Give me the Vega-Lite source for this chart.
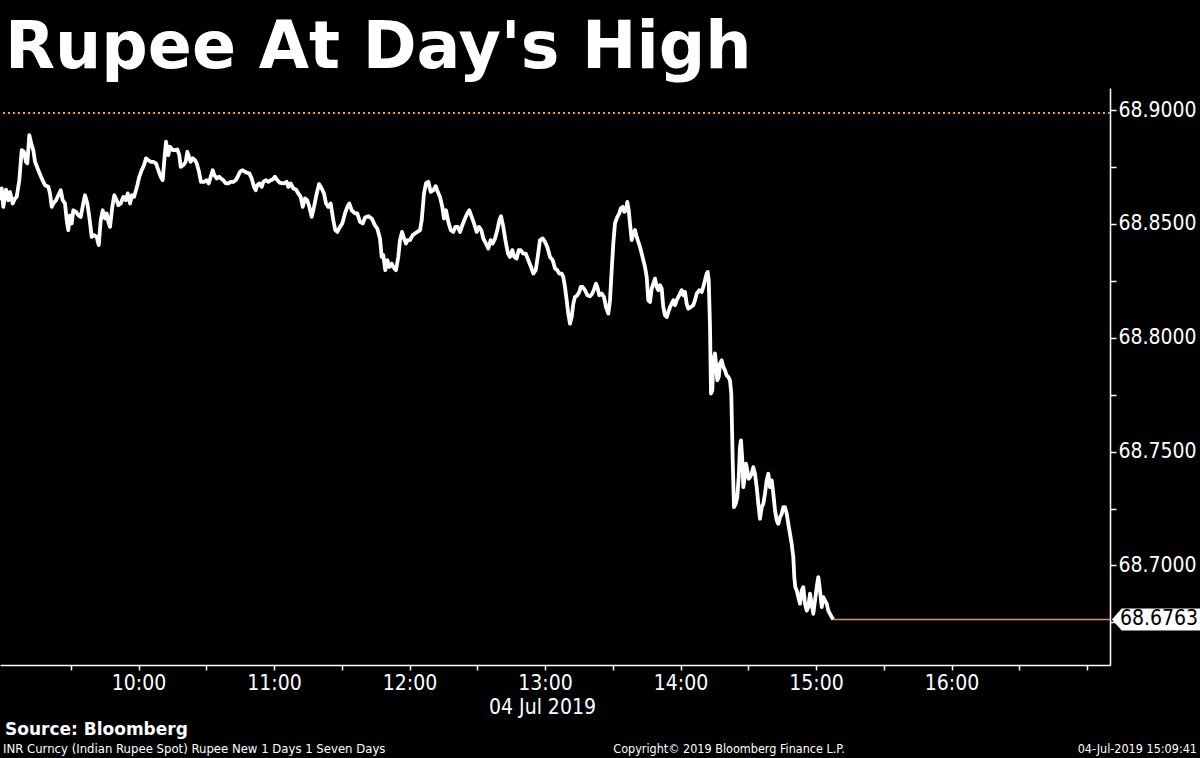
{
"$schema": "https://vega.github.io/schema/vega-lite/v6.json",
"autosize": {"type": "none"},
"width": 1110,
"height": 577,
"padding": {"left": 0, "top": 88, "right": 90, "bottom": 93},
"background": "black",
"config": {"view": {"stroke": null}, "axis": {"grid": false}},
"title": {"text": "Rupee At Day's High", "anchor": "start", "frame": "group", "color": "white", "fontSize": 65, "font": "DejaVu Sans", "fontWeight": "bold", "offset": 20, "baseline": "alphabetic", "dx": 5, "dy": 65},
"layer": [
{
"data": {"values": [
{"t":"2019-07-04T08:58:40","v":68.8604},{"t":"2019-07-04T08:59:25","v":68.8656},{"t":"2019-07-04T09:00:08","v":68.8575},{"t":"2019-07-04T09:01:20","v":68.8651},{"t":"2019-07-04T09:02:21","v":68.8604},{"t":"2019-07-04T09:03:06","v":68.8641},{"t":"2019-07-04T09:04:18","v":68.8590},{"t":"2019-07-04T09:05:19","v":68.8612},{"t":"2019-07-04T09:06:04","v":68.8619},{"t":"2019-07-04T09:07:13","v":68.8692},{"t":"2019-07-04T09:08:17","v":68.8824},{"t":"2019-07-04T09:09:18","v":68.8817},{"t":"2019-07-04T09:10:11","v":68.8773},{"t":"2019-07-04T09:10:46","v":68.8766},{"t":"2019-07-04T09:11:39","v":68.8890},{"t":"2019-07-04T09:12:42","v":68.8846},{"t":"2019-07-04T09:13:25","v":68.8824},{"t":"2019-07-04T09:14:10","v":68.8773},{"t":"2019-07-04T09:15:38","v":68.8736},{"t":"2019-07-04T09:17:08","v":68.8700},{"t":"2019-07-04T09:18:36","v":68.8670},{"t":"2019-07-04T09:20:04","v":68.8663},{"t":"2019-07-04T09:20:49","v":68.8634},{"t":"2019-07-04T09:21:34","v":68.8575},{"t":"2019-07-04T09:22:16","v":68.8590},{"t":"2019-07-04T09:23:28","v":68.8604},{"t":"2019-07-04T09:24:29","v":68.8626},{"t":"2019-07-04T09:25:33","v":68.8648},{"t":"2019-07-04T09:26:26","v":68.8604},{"t":"2019-07-04T09:27:27","v":68.8590},{"t":"2019-07-04T09:28:12","v":68.8516},{"t":"2019-07-04T09:28:55","v":68.8473},{"t":"2019-07-04T09:29:40","v":68.8538},{"t":"2019-07-04T09:30:25","v":68.8502},{"t":"2019-07-04T09:31:08","v":68.8560},{"t":"2019-07-04T09:32:19","v":68.8553},{"t":"2019-07-04T09:33:20","v":68.8538},{"t":"2019-07-04T09:34:24","v":68.8531},{"t":"2019-07-04T09:35:33","v":68.8590},{"t":"2019-07-04T09:36:18","v":68.8626},{"t":"2019-07-04T09:37:20","v":68.8590},{"t":"2019-07-04T09:38:13","v":68.8531},{"t":"2019-07-04T09:39:17","v":68.8443},{"t":"2019-07-04T09:40:18","v":68.8451},{"t":"2019-07-04T09:41:29","v":68.8443},{"t":"2019-07-04T09:42:23","v":68.8407},{"t":"2019-07-04T09:43:16","v":68.8516},{"t":"2019-07-04T09:44:09","v":68.8560},{"t":"2019-07-04T09:45:10","v":68.8524},{"t":"2019-07-04T09:45:55","v":68.8546},{"t":"2019-07-04T09:46:38","v":68.8509},{"t":"2019-07-04T09:47:23","v":68.8487},{"t":"2019-07-04T09:48:24","v":68.8575},{"t":"2019-07-04T09:49:17","v":68.8626},{"t":"2019-07-04T09:50:21","v":68.8604},{"t":"2019-07-04T09:51:04","v":68.8582},{"t":"2019-07-04T09:52:07","v":68.8590},{"t":"2019-07-04T09:53:16","v":68.8619},{"t":"2019-07-04T09:54:20","v":68.8604},{"t":"2019-07-04T09:55:13","v":68.8634},{"t":"2019-07-04T09:56:14","v":68.8590},{"t":"2019-07-04T09:57:07","v":68.8626},{"t":"2019-07-04T09:58:01","v":68.8619},{"t":"2019-07-04T09:58:53","v":68.8648},{"t":"2019-07-04T09:59:28","v":68.8670},
{"t":"2019-07-04T10:00:21","v":68.8707},{"t":"2019-07-04T10:01:25","v":68.8736},{"t":"2019-07-04T10:02:26","v":68.8758},{"t":"2019-07-04T10:03:19","v":68.8788},{"t":"2019-07-04T10:04:20","v":68.8780},{"t":"2019-07-04T10:05:24","v":68.8773},{"t":"2019-07-04T10:06:33","v":68.8773},{"t":"2019-07-04T10:07:45","v":68.8766},{"t":"2019-07-04T10:08:46","v":68.8736},{"t":"2019-07-04T10:09:50","v":68.8707},{"t":"2019-07-04T10:10:43","v":68.8692},{"t":"2019-07-04T10:11:25","v":68.8780},{"t":"2019-07-04T10:12:11","v":68.8861},{"t":"2019-07-04T10:13:12","v":68.8802},{"t":"2019-07-04T10:13:57","v":68.8839},{"t":"2019-07-04T10:15:09","v":68.8824},{"t":"2019-07-04T10:16:10","v":68.8824},{"t":"2019-07-04T10:17:11","v":68.8827},{"t":"2019-07-04T10:18:04","v":68.8802},{"t":"2019-07-04T10:18:41","v":68.8751},{"t":"2019-07-04T10:19:50","v":68.8758},{"t":"2019-07-04T10:20:54","v":68.8773},{"t":"2019-07-04T10:21:37","v":68.8817},{"t":"2019-07-04T10:22:22","v":68.8795},{"t":"2019-07-04T10:23:07","v":68.8773},{"t":"2019-07-04T10:24:00","v":68.8788},{"t":"2019-07-04T10:25:01","v":68.8780},{"t":"2019-07-04T10:25:46","v":68.8766},{"t":"2019-07-04T10:26:47","v":68.8729},{"t":"2019-07-04T10:27:40","v":68.8685},{"t":"2019-07-04T10:29:00","v":68.8685},{"t":"2019-07-04T10:30:12","v":68.8692},{"t":"2019-07-04T10:31:05","v":68.8678},{"t":"2019-07-04T10:31:58","v":68.8707},{"t":"2019-07-04T10:32:51","v":68.8736},{"t":"2019-07-04T10:33:34","v":68.8714},{"t":"2019-07-04T10:34:38","v":68.8700},{"t":"2019-07-04T10:35:39","v":68.8707},{"t":"2019-07-04T10:36:32","v":68.8700},{"t":"2019-07-04T10:37:33","v":68.8692},{"t":"2019-07-04T10:38:37","v":68.8678},{"t":"2019-07-04T10:39:46","v":68.8678},{"t":"2019-07-04T10:40:50","v":68.8685},{"t":"2019-07-04T10:41:59","v":68.8685},{"t":"2019-07-04T10:43:02","v":68.8692},{"t":"2019-07-04T10:43:56","v":68.8707},{"t":"2019-07-04T10:44:56","v":68.8729},{"t":"2019-07-04T10:45:58","v":68.8736},{"t":"2019-07-04T10:47:10","v":68.8729},{"t":"2019-07-04T10:48:11","v":68.8724},{"t":"2019-07-04T10:49:04","v":68.8722},{"t":"2019-07-04T10:50:07","v":68.8700},{"t":"2019-07-04T10:51:08","v":68.8663},{"t":"2019-07-04T10:51:54","v":68.8648},{"t":"2019-07-04T10:52:37","v":68.8670},{"t":"2019-07-04T10:53:29","v":68.8678},{"t":"2019-07-04T10:54:33","v":68.8663},{"t":"2019-07-04T10:55:16","v":68.8685},{"t":"2019-07-04T10:56:19","v":68.8692},{"t":"2019-07-04T10:57:29","v":68.8685},{"t":"2019-07-04T10:58:32","v":68.8692},{"t":"2019-07-04T10:59:25","v":68.8695},
{"t":"2019-07-04T11:00:26","v":68.8707},{"t":"2019-07-04T11:01:28","v":68.8692},{"t":"2019-07-04T11:02:40","v":68.8680},{"t":"2019-07-04T11:04:26","v":68.8678},{"t":"2019-07-04T11:05:37","v":68.8685},{"t":"2019-07-04T11:06:20","v":68.8663},{"t":"2019-07-04T11:07:23","v":68.8678},{"t":"2019-07-04T11:08:33","v":68.8656},{"t":"2019-07-04T11:09:44","v":68.8651},{"t":"2019-07-04T11:10:46","v":68.8634},{"t":"2019-07-04T11:11:49","v":68.8619},{"t":"2019-07-04T11:12:43","v":68.8575},{"t":"2019-07-04T11:13:44","v":68.8612},{"t":"2019-07-04T11:14:44","v":68.8604},{"t":"2019-07-04T11:15:38","v":68.8575},{"t":"2019-07-04T11:16:41","v":68.8531},{"t":"2019-07-04T11:17:43","v":68.8575},{"t":"2019-07-04T11:18:55","v":68.8634},{"t":"2019-07-04T11:19:56","v":68.8675},{"t":"2019-07-04T11:21:07","v":68.8656},{"t":"2019-07-04T11:22:08","v":68.8634},{"t":"2019-07-04T11:23:01","v":68.8590},{"t":"2019-07-04T11:24:02","v":68.8575},{"t":"2019-07-04T11:25:06","v":68.8590},{"t":"2019-07-04T11:26:16","v":68.8516},{"t":"2019-07-04T11:27:08","v":68.8473},{"t":"2019-07-04T11:28:02","v":68.8465},{"t":"2019-07-04T11:29:13","v":68.8487},{"t":"2019-07-04T11:30:14","v":68.8502},{"t":"2019-07-04T11:31:26","v":68.8546},{"t":"2019-07-04T11:32:28","v":68.8575},{"t":"2019-07-04T11:33:20","v":68.8590},{"t":"2019-07-04T11:34:25","v":68.8560},{"t":"2019-07-04T11:35:52","v":68.8546},{"t":"2019-07-04T11:36:53","v":68.8546},{"t":"2019-07-04T11:38:05","v":68.8509},{"t":"2019-07-04T11:39:17","v":68.8502},{"t":"2019-07-04T11:40:17","v":68.8528},{"t":"2019-07-04T11:41:45","v":68.8534},{"t":"2019-07-04T11:43:16","v":68.8524},{"t":"2019-07-04T11:44:43","v":68.8494},{"t":"2019-07-04T11:45:44","v":68.8480},{"t":"2019-07-04T11:46:56","v":68.8436},{"t":"2019-07-04T11:47:41","v":68.8355},{"t":"2019-07-04T11:48:24","v":68.8363},{"t":"2019-07-04T11:49:17","v":68.8297},{"t":"2019-07-04T11:50:10","v":68.8341},{"t":"2019-07-04T11:51:03","v":68.8311},{"t":"2019-07-04T11:52:07","v":68.8326},{"t":"2019-07-04T11:52:49","v":68.8311},{"t":"2019-07-04T11:54:01","v":68.8297},{"t":"2019-07-04T11:55:02","v":68.8355},{"t":"2019-07-04T11:55:47","v":68.8429},{"t":"2019-07-04T11:56:41","v":68.8465},{"t":"2019-07-04T11:57:34","v":68.8436},{"t":"2019-07-04T11:58:27","v":68.8414},{"t":"2019-07-04T11:59:12","v":68.8429},
{"t":"2019-07-04T12:00:13","v":68.8429},{"t":"2019-07-04T12:01:25","v":68.8451},{"t":"2019-07-04T12:02:26","v":68.8458},{"t":"2019-07-04T12:03:27","v":68.8465},{"t":"2019-07-04T12:04:39","v":68.8473},{"t":"2019-07-04T12:05:24","v":68.8516},{"t":"2019-07-04T12:06:25","v":68.8634},{"t":"2019-07-04T12:07:18","v":68.8678},{"t":"2019-07-04T12:08:19","v":68.8685},{"t":"2019-07-04T12:09:23","v":68.8641},{"t":"2019-07-04T12:10:32","v":68.8648},{"t":"2019-07-04T12:11:36","v":68.8666},{"t":"2019-07-04T12:12:29","v":68.8641},{"t":"2019-07-04T12:13:30","v":68.8619},{"t":"2019-07-04T12:14:31","v":68.8575},{"t":"2019-07-04T12:15:16","v":68.8524},{"t":"2019-07-04T12:16:10","v":68.8560},{"t":"2019-07-04T12:17:11","v":68.8509},{"t":"2019-07-04T12:18:14","v":68.8473},{"t":"2019-07-04T12:19:23","v":68.8465},{"t":"2019-07-04T12:20:17","v":68.8487},{"t":"2019-07-04T12:21:20","v":68.8487},{"t":"2019-07-04T12:22:22","v":68.8465},{"t":"2019-07-04T12:23:23","v":68.8494},{"t":"2019-07-04T12:24:34","v":68.8524},{"t":"2019-07-04T12:25:35","v":68.8546},{"t":"2019-07-04T12:26:29","v":68.8560},{"t":"2019-07-04T12:27:32","v":68.8531},{"t":"2019-07-04T12:28:34","v":68.8502},{"t":"2019-07-04T12:29:45","v":68.8465},{"t":"2019-07-04T12:30:46","v":68.8487},{"t":"2019-07-04T12:31:47","v":68.8473},{"t":"2019-07-04T12:32:41","v":68.8436},{"t":"2019-07-04T12:33:52","v":68.8414},{"t":"2019-07-04T12:34:53","v":68.8392},{"t":"2019-07-04T12:35:57","v":68.8429},{"t":"2019-07-04T12:36:50","v":68.8414},{"t":"2019-07-04T12:37:52","v":68.8436},{"t":"2019-07-04T12:38:53","v":68.8473},{"t":"2019-07-04T12:39:46","v":68.8516},{"t":"2019-07-04T12:40:31","v":68.8534},{"t":"2019-07-04T12:41:32","v":68.8487},{"t":"2019-07-04T12:42:36","v":68.8421},{"t":"2019-07-04T12:43:37","v":68.8370},{"t":"2019-07-04T12:44:30","v":68.8355},{"t":"2019-07-04T12:45:31","v":68.8385},{"t":"2019-07-04T12:46:24","v":68.8355},{"t":"2019-07-04T12:47:28","v":68.8348},{"t":"2019-07-04T12:48:21","v":68.8385},{"t":"2019-07-04T12:49:14","v":68.8385},{"t":"2019-07-04T12:50:23","v":68.8370},{"t":"2019-07-04T12:51:27","v":68.8370},{"t":"2019-07-04T12:52:36","v":68.8341},{"t":"2019-07-04T12:53:48","v":68.8311},{"t":"2019-07-04T12:54:49","v":68.8282},{"t":"2019-07-04T12:55:53","v":68.8297},{"t":"2019-07-04T12:56:46","v":68.8355},{"t":"2019-07-04T12:57:47","v":68.8429},{"t":"2019-07-04T12:58:59","v":68.8436},
{"t":"2019-07-04T13:00:00","v":68.8421},{"t":"2019-07-04T13:01:01","v":68.8399},{"t":"2019-07-04T13:02:13","v":68.8355},{"t":"2019-07-04T13:03:25","v":68.8341},{"t":"2019-07-04T13:04:26","v":68.8304},{"t":"2019-07-04T13:05:26","v":68.8297},{"t":"2019-07-04T13:06:20","v":68.8282},{"t":"2019-07-04T13:07:23","v":68.8282},{"t":"2019-07-04T13:08:06","v":68.8267},{"t":"2019-07-04T13:08:51","v":68.8223},{"t":"2019-07-04T13:09:36","v":68.8165},{"t":"2019-07-04T13:10:19","v":68.8106},{"t":"2019-07-04T13:11:04","v":68.8062},{"t":"2019-07-04T13:11:49","v":68.8091},{"t":"2019-07-04T13:12:32","v":68.8150},{"t":"2019-07-04T13:13:17","v":68.8179},{"t":"2019-07-04T13:14:18","v":68.8187},{"t":"2019-07-04T13:15:11","v":68.8201},{"t":"2019-07-04T13:15:49","v":68.8223},{"t":"2019-07-04T13:16:41","v":68.8223},{"t":"2019-07-04T13:17:43","v":68.8209},{"t":"2019-07-04T13:18:44","v":68.8187},{"t":"2019-07-04T13:19:55","v":68.8182},{"t":"2019-07-04T13:20:56","v":68.8194},{"t":"2019-07-04T13:21:50","v":68.8216},{"t":"2019-07-04T13:22:35","v":68.8238},{"t":"2019-07-04T13:23:10","v":68.8223},{"t":"2019-07-04T13:24:03","v":68.8187},{"t":"2019-07-04T13:25:06","v":68.8194},{"t":"2019-07-04T13:26:07","v":68.8179},{"t":"2019-07-04T13:27:01","v":68.8135},{"t":"2019-07-04T13:28:02","v":68.8106},{"t":"2019-07-04T13:28:47","v":68.8165},{"t":"2019-07-04T13:29:32","v":68.8297},{"t":"2019-07-04T13:30:14","v":68.8414},{"t":"2019-07-04T13:30:59","v":68.8502},{"t":"2019-07-04T13:32:01","v":68.8531},{"t":"2019-07-04T13:32:54","v":68.8546},{"t":"2019-07-04T13:33:31","v":68.8568},{"t":"2019-07-04T13:34:24","v":68.8575},{"t":"2019-07-04T13:35:07","v":68.8553},{"t":"2019-07-04T13:35:52","v":68.8560},{"t":"2019-07-04T13:36:26","v":68.8597},{"t":"2019-07-04T13:37:04","v":68.8560},{"t":"2019-07-04T13:37:38","v":68.8502},{"t":"2019-07-04T13:38:23","v":68.8429},{"t":"2019-07-04T13:39:06","v":68.8458},{"t":"2019-07-04T13:39:51","v":68.8473},{"t":"2019-07-04T13:40:36","v":68.8443},{"t":"2019-07-04T13:41:19","v":68.8421},{"t":"2019-07-04T13:42:04","v":68.8399},{"t":"2019-07-04T13:42:49","v":68.8370},{"t":"2019-07-04T13:43:32","v":68.8341},{"t":"2019-07-04T13:44:17","v":68.8311},{"t":"2019-07-04T13:45:02","v":68.8267},{"t":"2019-07-04T13:45:44","v":68.8165},{"t":"2019-07-04T13:46:29","v":68.8157},{"t":"2019-07-04T13:47:15","v":68.8216},{"t":"2019-07-04T13:47:57","v":68.8238},{"t":"2019-07-04T13:48:43","v":68.8260},{"t":"2019-07-04T13:49:28","v":68.8223},{"t":"2019-07-04T13:50:10","v":68.8209},{"t":"2019-07-04T13:50:55","v":68.8231},{"t":"2019-07-04T13:51:40","v":68.8216},{"t":"2019-07-04T13:52:23","v":68.8135},{"t":"2019-07-04T13:53:08","v":68.8099},{"t":"2019-07-04T13:53:53","v":68.8091},{"t":"2019-07-04T13:54:36","v":68.8113},{"t":"2019-07-04T13:55:21","v":68.8135},{"t":"2019-07-04T13:56:06","v":68.8150},{"t":"2019-07-04T13:56:49","v":68.8165},{"t":"2019-07-04T13:57:34","v":68.8143},{"t":"2019-07-04T13:58:19","v":68.8165},{"t":"2019-07-04T13:59:01","v":68.8179},{"t":"2019-07-04T13:59:47","v":68.8194},
{"t":"2019-07-04T14:00:32","v":68.8209},{"t":"2019-07-04T14:01:14","v":68.8187},{"t":"2019-07-04T14:01:59","v":68.8201},{"t":"2019-07-04T14:02:44","v":68.8150},{"t":"2019-07-04T14:03:27","v":68.8128},{"t":"2019-07-04T14:04:31","v":68.8135},{"t":"2019-07-04T14:05:40","v":68.8143},{"t":"2019-07-04T14:06:25","v":68.8165},{"t":"2019-07-04T14:07:10","v":68.8194},{"t":"2019-07-04T14:08:19","v":68.8209},{"t":"2019-07-04T14:09:23","v":68.8201},{"t":"2019-07-04T14:10:05","v":68.8223},{"t":"2019-07-04T14:10:51","v":68.8253},{"t":"2019-07-04T14:11:36","v":68.8282},{"t":"2019-07-04T14:12:02","v":68.8289},{"t":"2019-07-04T14:12:30","v":68.8253},{"t":"2019-07-04T14:13:04","v":68.8047},{"t":"2019-07-04T14:13:30","v":68.7755},{"t":"2019-07-04T14:14:05","v":68.7769},{"t":"2019-07-04T14:14:31","v":68.7901},{"t":"2019-07-04T14:15:16","v":68.7931},{"t":"2019-07-04T14:15:43","v":68.7887},{"t":"2019-07-04T14:16:17","v":68.7813},{"t":"2019-07-04T14:16:55","v":68.7828},{"t":"2019-07-04T14:17:29","v":68.7887},{"t":"2019-07-04T14:18:14","v":68.7901},{"t":"2019-07-04T14:18:57","v":68.7872},{"t":"2019-07-04T14:19:42","v":68.7857},{"t":"2019-07-04T14:20:27","v":68.7835},{"t":"2019-07-04T14:21:10","v":68.7828},{"t":"2019-07-04T14:21:55","v":68.7813},{"t":"2019-07-04T14:22:29","v":68.7755},{"t":"2019-07-04T14:23:07","v":68.7462},{"t":"2019-07-04T14:23:41","v":68.7256},{"t":"2019-07-04T14:24:26","v":68.7271},{"t":"2019-07-04T14:25:09","v":68.7300},{"t":"2019-07-04T14:25:46","v":68.7388},{"t":"2019-07-04T14:26:20","v":68.7520},{"t":"2019-07-04T14:26:47","v":68.7549},{"t":"2019-07-04T14:27:22","v":68.7462},{"t":"2019-07-04T14:27:49","v":68.7344},{"t":"2019-07-04T14:28:26","v":68.7388},{"t":"2019-07-04T14:29:00","v":68.7447},{"t":"2019-07-04T14:29:35","v":68.7418},{"t":"2019-07-04T14:30:12","v":68.7381},{"t":"2019-07-04T14:30:46","v":68.7388},{"t":"2019-07-04T14:31:31","v":68.7403},{"t":"2019-07-04T14:32:14","v":68.7432},{"t":"2019-07-04T14:32:59","v":68.7403},{"t":"2019-07-04T14:33:44","v":68.7344},{"t":"2019-07-04T14:34:27","v":68.7271},{"t":"2019-07-04T14:35:12","v":68.7205},{"t":"2019-07-04T14:35:58","v":68.7256},{"t":"2019-07-04T14:36:40","v":68.7271},{"t":"2019-07-04T14:37:25","v":68.7315},{"t":"2019-07-04T14:38:10","v":68.7374},{"t":"2019-07-04T14:38:53","v":68.7403},{"t":"2019-07-04T14:39:38","v":68.7344},{"t":"2019-07-04T14:40:23","v":68.7374},{"t":"2019-07-04T14:41:06","v":68.7315},{"t":"2019-07-04T14:41:51","v":68.7242},{"t":"2019-07-04T14:42:36","v":68.7198},{"t":"2019-07-04T14:43:19","v":68.7183},{"t":"2019-07-04T14:44:04","v":68.7212},{"t":"2019-07-04T14:44:49","v":68.7227},{"t":"2019-07-04T14:45:31","v":68.7256},{"t":"2019-07-04T14:46:16","v":68.7256},{"t":"2019-07-04T14:47:02","v":68.7227},{"t":"2019-07-04T14:47:44","v":68.7183},{"t":"2019-07-04T14:48:29","v":68.7139},{"t":"2019-07-04T14:49:14","v":68.7095},{"t":"2019-07-04T14:49:57","v":68.7037},{"t":"2019-07-04T14:50:23","v":68.6949},{"t":"2019-07-04T14:50:50","v":68.6905},{"t":"2019-07-04T14:51:28","v":68.6890},{"t":"2019-07-04T14:52:10","v":68.6861},{"t":"2019-07-04T14:52:55","v":68.6832},{"t":"2019-07-04T14:53:40","v":68.6890},{"t":"2019-07-04T14:54:22","v":68.6905},{"t":"2019-07-04T14:55:08","v":68.6832},{"t":"2019-07-04T14:55:53","v":68.6802},{"t":"2019-07-04T14:56:35","v":68.6817},{"t":"2019-07-04T14:57:20","v":68.6876},{"t":"2019-07-04T14:58:06","v":68.6832},{"t":"2019-07-04T14:58:48","v":68.6788},{"t":"2019-07-04T14:59:34","v":68.6846},
{"t":"2019-07-04T15:00:19","v":68.6905},{"t":"2019-07-04T15:01:01","v":68.6949},{"t":"2019-07-04T15:01:46","v":68.6890},{"t":"2019-07-04T15:02:32","v":68.6817},{"t":"2019-07-04T15:03:14","v":68.6861},{"t":"2019-07-04T15:03:59","v":68.6846},{"t":"2019-07-04T15:04:44","v":68.6832},{"t":"2019-07-04T15:05:27","v":68.6802},{"t":"2019-07-04T15:06:12","v":68.6788},{"t":"2019-07-04T15:06:58","v":68.6773},{"t":"2019-07-04T15:07:40","v":68.6763}
]},
"mark": {"type": "line", "color": "white", "strokeWidth": 3.8, "strokeJoin": "round", "clip": true},
"encoding": {
"x": {"field": "t", "type": "temporal",
"scale": {"domain": [{"year": 2019, "month": 7, "date": 4, "hours": 8, "minutes": 58, "seconds": 40}, {"year": 2019, "month": 7, "date": 4, "hours": 17, "minutes": 10, "seconds": 11}]},
"axis": {"title": "04 Jul 2019", "orient": "bottom", "domainColor": "white", "domainWidth": 1.5, "tickColor": "white", "tickSize": 5, "tickWidth": 1.5,
"values": [
{"year": 2019, "month": 7, "date": 4, "hours": 9, "minutes": 30},
{"year": 2019, "month": 7, "date": 4, "hours": 10, "minutes": 0},
{"year": 2019, "month": 7, "date": 4, "hours": 10, "minutes": 30},
{"year": 2019, "month": 7, "date": 4, "hours": 11, "minutes": 0},
{"year": 2019, "month": 7, "date": 4, "hours": 11, "minutes": 30},
{"year": 2019, "month": 7, "date": 4, "hours": 12, "minutes": 0},
{"year": 2019, "month": 7, "date": 4, "hours": 12, "minutes": 30},
{"year": 2019, "month": 7, "date": 4, "hours": 13, "minutes": 0},
{"year": 2019, "month": 7, "date": 4, "hours": 13, "minutes": 30},
{"year": 2019, "month": 7, "date": 4, "hours": 14, "minutes": 0},
{"year": 2019, "month": 7, "date": 4, "hours": 14, "minutes": 30},
{"year": 2019, "month": 7, "date": 4, "hours": 15, "minutes": 0},
{"year": 2019, "month": 7, "date": 4, "hours": 15, "minutes": 30},
{"year": 2019, "month": 7, "date": 4, "hours": 16, "minutes": 0},
{"year": 2019, "month": 7, "date": 4, "hours": 16, "minutes": 30},
{"year": 2019, "month": 7, "date": 4, "hours": 17, "minutes": 0}],
"labelExpr": "minutes(datum.value) == 0 && hours(datum.value) < 17 ? timeFormat(datum.value, '%H:%M') : ''",
"labelColor": "white", "labelFont": "DejaVu Sans Condensed", "labelFontSize": 21, "labelPadding": 2, "labelFlush": false, "labelOverlap": false,
"titleColor": "white", "titleFont": "DejaVu Sans Condensed", "titleFontSize": 21, "titleFontWeight": "normal", "titlePadding": 3, "titleX": 542}},
"y": {"field": "v", "type": "quantitative",
"scale": {"domain": [68.6563, 68.9097], "zero": false, "nice": false},
"axis": {"title": null, "orient": "right", "domainColor": "white", "domainWidth": 1.5, "tickColor": "white", "tickSize": 6, "tickWidth": 1.5,
"values": [68.675, 68.7, 68.725, 68.75, 68.775, 68.8, 68.825, 68.85, 68.875, 68.9],
"labelExpr": "round(datum.value * 1000) % 50 == 0 ? format(datum.value, '.4f') : ''",
"labelColor": "white", "labelFont": "DejaVu Sans Condensed", "labelFontSize": 21, "labelPadding": 2, "labelFlush": false, "labelOverlap": false}}
}
},
{
"data": {"values": [{"v": 68.8987}]},
"mark": {"type": "rule", "color": "#f0a040", "strokeWidth": 2, "strokeDash": [2, 3]},
"encoding": {"y": {"field": "v", "type": "quantitative"}}
},
{
"data": {"values": [{"t": "2019-07-04T15:07:40", "t2": "2019-07-04T17:10:11", "v": 68.6763}]},
"layer": [
{"mark": {"type": "rule", "color": "#d4956a", "strokeWidth": 1.5},
"encoding": {"x": {"field": "t", "type": "temporal"}, "x2": {"field": "t2"}, "y": {"field": "v", "type": "quantitative"}}},
{"mark": {"type": "point", "shape": "M-1,0 L-0.78,-0.25 L1,-0.25 L1,0.25 L-0.78,0.25 Z", "size": 7744, "filled": true, "color": "white", "opacity": 1, "xOffset": 46},
"encoding": {"x": {"field": "t2", "type": "temporal"}, "y": {"field": "v", "type": "quantitative"}}},
{"mark": {"type": "text", "color": "black", "font": "DejaVu Sans Condensed", "fontSize": 21, "align": "left", "baseline": "middle", "dx": 10},
"encoding": {"x": {"field": "t2", "type": "temporal"}, "y": {"field": "v", "type": "quantitative"}, "text": {"field": "v", "type": "quantitative", "format": ".4f"}}}
]
},
{
"data": {"values": [{"note": "Source: Bloomberg"}]},
"mark": {"type": "text", "color": "white", "font": "DejaVu Sans", "fontWeight": "bold", "fontSize": 17, "align": "left", "baseline": "alphabetic"},
"encoding": {"text": {"field": "note"}, "x": {"value": 5}, "y": {"value": 647}}
},
{
"data": {"values": [{"note": "INR Curncy (Indian Rupee Spot) Rupee New 1 Days 1 Seven Days"}]},
"mark": {"type": "text", "color": "white", "font": "DejaVu Sans Condensed", "fontSize": 13, "align": "left", "baseline": "alphabetic"},
"encoding": {"text": {"field": "note"}, "x": {"value": 3}, "y": {"value": 665}}
},
{
"data": {"values": [{"note": "Copyright© 2019 Bloomberg Finance L.P."}]},
"mark": {"type": "text", "color": "white", "font": "DejaVu Sans Condensed", "fontSize": 12.5, "align": "center", "baseline": "alphabetic"},
"encoding": {"text": {"field": "note"}, "x": {"value": 729}, "y": {"value": 665}}
},
{
"data": {"values": [{"note": "04-Jul-2019 15:09:41"}]},
"mark": {"type": "text", "color": "white", "font": "DejaVu Sans Condensed", "fontSize": 12.5, "align": "right", "baseline": "alphabetic"},
"encoding": {"text": {"field": "note"}, "x": {"value": 1197}, "y": {"value": 665}}
}
]
}
